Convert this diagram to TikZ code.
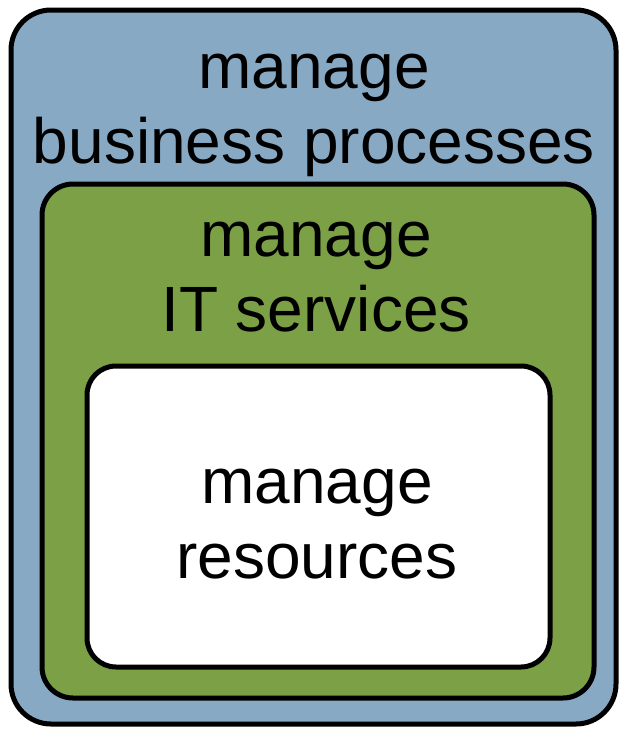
\documentclass[tikz,border=0pt]{standalone}
\usepackage{fontspec}
\setmainfont{Liberation Sans}
\definecolor{outerblue}{HTML}{87A9C4}
\definecolor{innergreen}{HTML}{7BA045}
\tikzset{
  layer/.style={draw=black, line width=5pt},
  label/.style={font=\fontsize{64}{75}\selectfont, align=center, anchor=base, inner sep=0pt}
}
\begin{document}
\begin{tikzpicture}[x=1pt,y=-1pt]
  \useasboundingbox (0,0) rectangle (620,729);
  % three nested management layers
  \draw[layer, fill=outerblue, rounded corners=40pt] (11,10) rectangle (616,724);
  \draw[layer, fill=innergreen, rounded corners=31pt] (42,184) rectangle (594,698);
  \draw[layer, fill=white, rounded corners=29pt] (87,366) rectangle (550,667);
  % base anchor sits on the last line's baseline
  \node[label] (business) at (314,163) {manage\\business processes};
  \node[label] (services) at (316,331) {manage\\IT services};
  \node[label] (resources) at (317,578) {manage\\resources};
\end{tikzpicture}
\end{document}
